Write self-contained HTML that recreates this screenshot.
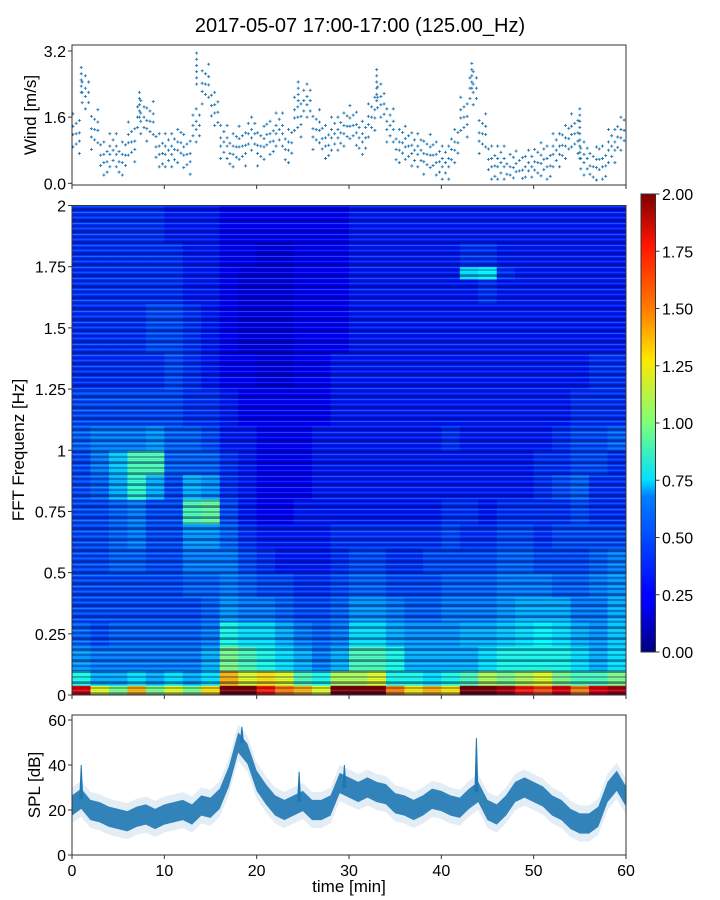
<!DOCTYPE html>
<html><head><meta charset="utf-8"><style>
html,body{margin:0;padding:0;background:#fff;}
svg{display:block;font-family:"Liberation Sans","DejaVu Sans",sans-serif;}
</style></head><body>
<svg id="fig" width="720" height="900" viewBox="0 0 720 900" xmlns="http://www.w3.org/2000/svg">
<defs>
<pattern id="streaks" width="13" height="11" patternUnits="userSpaceOnUse">
<rect x="0" y="0" width="13" height="2" fill="rgba(0,0,70,0.45)"/>
<rect x="0" y="3" width="13" height="1" fill="rgba(120,220,255,0.28)"/>
<rect x="0" y="5" width="13" height="2" fill="rgba(0,0,70,0.30)"/>
<rect x="0" y="8" width="13" height="1" fill="rgba(80,170,255,0.22)"/>
<rect x="0" y="10" width="13" height="1" fill="rgba(0,0,70,0.35)"/>
</pattern>
<linearGradient id="jetgrad" x1="0" y1="1" x2="0" y2="0">
<stop offset="0" stop-color="#00007f"/><stop offset="0.11" stop-color="#0000ff"/>
<stop offset="0.125" stop-color="#0000ff"/><stop offset="0.34" stop-color="#0080ff"/>
<stop offset="0.375" stop-color="#00e0ff"/><stop offset="0.5" stop-color="#7dff7a"/>
<stop offset="0.64" stop-color="#ffe600"/><stop offset="0.75" stop-color="#ff7b00"/>
<stop offset="0.89" stop-color="#ff1300"/><stop offset="1" stop-color="#7f0000"/>
</linearGradient>
</defs>
<text x="360" y="32" font-size="20" text-anchor="middle" fill="#000">2017-05-07 17:00-17:00 (125.00_Hz)</text>
<g id="wind"></g>
<g id="spec"></g>
<g id="cbar"></g>
<g id="spl"></g>
</svg>
<script>
// ---- data ----
const timeTicks = [0,10,20,30,40,50,60];
const windTicks = [0.0,1.6,3.2];
const windTickLabels = ["0.0","1.6","3.2"];
const windMinutes = [0,1,2,3,4,5,6,7,8,9,10,11,12,13,14,15,16,17,18,19,20,21,22,23,24,25,26,27,28,29,30,31,32,33,34,35,36,37,38,39,40,41,42,43,44,45,46,47,48,49,50,51,52,53,54,55,56,57,58,59,60];
const windValues = [1.2,2.2,1.3,0.6,0.8,0.6,1.0,1.6,1.5,0.8,0.8,0.9,0.7,1.4,2.4,1.8,1.0,0.8,0.9,1.2,0.9,1.1,1.3,0.9,1.6,2.0,1.3,1.0,1.2,1.3,1.4,1.1,1.6,2.0,1.4,0.9,0.9,0.8,0.7,0.6,0.5,0.9,1.6,2.3,1.2,0.5,0.5,0.3,0.3,0.4,0.5,0.5,0.8,1.0,1.2,0.6,0.4,0.5,0.9,1.2,1.0];
const windPeaks = [[1,2.8],[13.5,3.2],[24.5,2.5],[33,2.8],[43.3,3.0],[7.3,2.2],[55,1.8]];
const freqTicks = [0,0.25,0.5,0.75,1,1.25,1.5,1.75,2];
const freqTickLabels = ["0","0.25","0.5","0.75","1","1.25","1.5","1.75","2"];
const freqEdges = [0,0.04,0.1,0.2,0.3,0.4,0.5,0.6,0.7,0.8,0.9,1.0,1.1,1.25,1.4,1.6,1.7,1.75,1.85,2.0];
const timeEdges = [0,2,4,6,8,10,12,14,16,18,20,22,24,26,28,30,32,34,36,38,40,42,44,46,48,50,52,54,56,58,60];
const specRows = [
[1.8,1.2,1.0,1.4,1.0,1.2,1.0,1.3,2.0,2.0,1.7,1.5,1.4,1.2,2.0,2.0,2.0,1.5,1.3,1.4,1.3,2.0,2.0,1.9,1.7,1.6,1.8,1.5,1.8,1.9],
[0.8,0.6,0.6,0.7,0.6,0.7,0.6,0.7,1.4,1.2,1.3,1.2,0.9,0.8,1.1,1.1,1.2,0.8,0.8,0.7,0.8,0.9,1.1,1.0,1.1,1.2,1.0,0.9,0.9,1.0],
[0.55,0.5,0.5,0.5,0.5,0.5,0.5,0.6,1.0,0.9,0.8,0.7,0.6,0.5,0.6,0.9,0.9,0.8,0.6,0.6,0.6,0.6,0.7,0.8,0.8,0.8,0.8,0.7,0.6,0.7],
[0.45,0.4,0.45,0.45,0.45,0.45,0.45,0.5,0.8,0.7,0.7,0.6,0.5,0.45,0.5,0.7,0.7,0.6,0.55,0.55,0.55,0.6,0.6,0.65,0.7,0.75,0.7,0.6,0.55,0.65],
[0.4,0.4,0.4,0.4,0.4,0.4,0.4,0.45,0.55,0.5,0.5,0.45,0.4,0.4,0.45,0.55,0.55,0.5,0.45,0.45,0.5,0.5,0.5,0.55,0.6,0.6,0.6,0.5,0.5,0.6],
[0.4,0.4,0.4,0.4,0.4,0.4,0.45,0.45,0.5,0.45,0.4,0.4,0.35,0.35,0.4,0.45,0.45,0.4,0.4,0.4,0.45,0.45,0.45,0.5,0.5,0.5,0.45,0.45,0.5,0.55],
[0.4,0.4,0.45,0.45,0.4,0.4,0.5,0.5,0.5,0.4,0.35,0.3,0.3,0.3,0.35,0.4,0.4,0.35,0.35,0.4,0.4,0.4,0.4,0.45,0.45,0.4,0.4,0.4,0.45,0.5],
[0.4,0.4,0.45,0.5,0.4,0.4,0.55,0.55,0.45,0.35,0.3,0.3,0.3,0.3,0.35,0.35,0.35,0.35,0.35,0.35,0.4,0.35,0.35,0.4,0.4,0.35,0.4,0.4,0.4,0.4],
[0.4,0.4,0.45,0.5,0.4,0.4,0.9,0.95,0.4,0.3,0.25,0.25,0.3,0.3,0.3,0.3,0.3,0.3,0.3,0.3,0.35,0.35,0.3,0.35,0.35,0.35,0.35,0.4,0.35,0.35],
[0.4,0.45,0.6,0.85,0.6,0.4,0.6,0.55,0.35,0.3,0.25,0.25,0.25,0.3,0.3,0.3,0.3,0.3,0.3,0.3,0.3,0.3,0.3,0.3,0.3,0.35,0.4,0.45,0.35,0.35],
[0.4,0.5,0.65,0.9,0.9,0.45,0.45,0.45,0.35,0.3,0.25,0.25,0.25,0.3,0.3,0.3,0.3,0.3,0.3,0.3,0.3,0.3,0.3,0.3,0.3,0.35,0.35,0.4,0.4,0.35],
[0.45,0.5,0.5,0.5,0.55,0.45,0.45,0.4,0.3,0.3,0.25,0.25,0.25,0.3,0.3,0.3,0.3,0.3,0.3,0.3,0.35,0.3,0.3,0.3,0.3,0.3,0.35,0.4,0.4,0.45],
[0.4,0.4,0.4,0.4,0.4,0.4,0.35,0.35,0.3,0.25,0.25,0.25,0.25,0.25,0.3,0.3,0.3,0.3,0.3,0.3,0.3,0.3,0.3,0.3,0.3,0.3,0.3,0.35,0.35,0.35],
[0.35,0.35,0.35,0.35,0.35,0.4,0.35,0.3,0.25,0.25,0.2,0.2,0.25,0.25,0.3,0.3,0.3,0.3,0.3,0.3,0.3,0.3,0.3,0.3,0.3,0.3,0.3,0.3,0.35,0.35],
[0.35,0.35,0.35,0.35,0.4,0.4,0.35,0.3,0.25,0.2,0.2,0.2,0.25,0.25,0.25,0.3,0.3,0.3,0.3,0.3,0.3,0.3,0.3,0.3,0.3,0.3,0.3,0.3,0.3,0.3],
[0.35,0.35,0.35,0.35,0.35,0.35,0.3,0.3,0.25,0.2,0.2,0.2,0.25,0.25,0.25,0.3,0.3,0.3,0.3,0.3,0.3,0.3,0.35,0.3,0.3,0.3,0.3,0.3,0.3,0.3],
[0.35,0.35,0.35,0.35,0.35,0.35,0.3,0.3,0.25,0.2,0.2,0.2,0.25,0.25,0.25,0.3,0.3,0.3,0.3,0.3,0.3,0.7,0.75,0.35,0.3,0.3,0.3,0.3,0.3,0.3],
[0.35,0.35,0.35,0.35,0.35,0.35,0.3,0.3,0.25,0.25,0.2,0.2,0.25,0.25,0.25,0.3,0.3,0.3,0.3,0.3,0.3,0.35,0.35,0.3,0.3,0.3,0.3,0.3,0.3,0.3],
[0.35,0.35,0.35,0.35,0.35,0.3,0.3,0.3,0.25,0.25,0.25,0.25,0.25,0.25,0.25,0.3,0.3,0.3,0.3,0.3,0.3,0.3,0.3,0.3,0.3,0.3,0.3,0.3,0.3,0.3]
];
const cbarTicks = [0,0.25,0.5,0.75,1,1.25,1.5,1.75,2];
const cbarTickLabels = ["0.00","0.25","0.50","0.75","1.00","1.25","1.50","1.75","2.00"];
const splTicks = [0,20,40,60];
const splMinutes = windMinutes;
const splMean = [22,25,20,19,17,16,15,17,18,16,18,19,20,18,22,21,25,35,50,45,33,27,22,20,22,24,20,20,22,32,30,28,30,28,27,23,22,20,22,25,24,22,21,25,28,20,18,22,28,30,28,26,22,20,16,14,14,17,28,33,26];
const splSpikes = [[1,40],[18.4,57],[24.6,37],[43.8,52],[29.5,40]];

// ---- helpers ----
const NS = "http://www.w3.org/2000/svg";
function mk(tag, attrs, parent){const e=document.createElementNS(NS,tag);for(const k in attrs)e.setAttribute(k,attrs[k]);parent.appendChild(e);return e;}
const X0=72, X1=626;
const xT = t => X0 + (X1-X0)*t/60;
const yW = v => 183.3 - (183.3-51)*v/3.2;
const yF = f => 695 - (695-205.5)*f/2;
const yS = v => 855 - (855-720)*v/60;
const yC = v => 652 - (652-194)*v/2;
function jet(v){
  let t=Math.max(0,Math.min(1,v/2));
  const c=x=>Math.max(0,Math.min(1,x));
  const r=c(1.5-Math.abs(4*t-3)), g=c(1.5-Math.abs(4*t-2)), b=c(1.5-Math.abs(4*t-1));
  return `rgb(${Math.round(r*255)},${Math.round(g*255)},${Math.round(b*255)})`;
}
function axesFrame(g, y0, y1, name){
  const r=mk('rect',{x:X0,y:y0,width:X1-X0,height:y1-y0,fill:'none',stroke:'#333','stroke-width':1},g);
  
  
}
function xTickMarks(g, yb, labels){
  timeTicks.forEach(t=>{
    const l=mk('line',{x1:xT(t),x2:xT(t),y1:yb,y2:yb+4,stroke:'#333'},g);
    
    
    if(labels){
      const tx=mk('text',{x:xT(t),y:yb+21,'font-size':16,'text-anchor':'middle'},g);
      tx.textContent=t;
      
      
    }
  });
}
function yTick(g, y, label, x){
  const l=mk('line',{x1:X0-4,x2:X0,y1:y,y2:y,stroke:'#333'},g);
  
  
  const tx=mk('text',{x:x||X0-6,y:y+6,'font-size':16,'text-anchor':'end'},g);
  tx.textContent=label;
  
  
}
function yTitle(g, x, y, label, name){
  const tx=mk('text',{x:x,y:y,'font-size':17,'text-anchor':'middle',transform:`rotate(-90 ${x} ${y})`},g);
  tx.textContent=label;
  
  
}

// ---- wind ----
const gw=document.getElementById('wind');
const offsets=[-0.4,-0.25,-0.1,0,0.1,0.25,0.4];
const cols=[0.1,0.45,0.8];
windMinutes.forEach((m,i)=>{
  if(m>=60) return;
  cols.forEach((c,ci)=>{
    offsets.forEach((o,oi)=>{
      if((oi+ci+i)%2===1) return;
      const v=windValues[i]+o+(ci-1)*0.08*((i%3)-1);
      if(v<0.05) return;
      const x=xT(m+c), y=yW(v);
      const p=mk('path',{d:`M${x-1.5} ${y}h3M${x} ${y-1.5}v3`,stroke:'#1f77b4','stroke-width':0.9},gw);
      
      
    });
  });
});
windPeaks.forEach(pk=>{
  const base=windValues[Math.round(pk[0])];
  for(let v=base; v<=pk[1]+0.001; v+=0.15){
    const x=xT(pk[0]), y=yW(v);
    const p=mk('path',{d:`M${x-1.5} ${y}h3M${x} ${y-1.5}v3`,stroke:'#1f77b4','stroke-width':0.9},gw);
    
    
  }
});
axesFrame(gw,45,185,'wind-axes-frame');
xTickMarks(gw,185,false);
windTicks.forEach((t,i)=>yTick(gw,yW(t),windTickLabels[i]));
yTitle(gw,36,115,'Wind [m/s]','wind-y-axis-title');

// ---- spectrogram ----
const gs=document.getElementById('spec');
specRows.forEach((row,ri)=>{
  row.forEach((v,ci)=>{
    const x0=xT(timeEdges[ci]), x1=xT(timeEdges[ci+1]);
    const y0=yF(freqEdges[ri+1]), y1=yF(freqEdges[ri]);
    const r=mk('rect',{x:x0,y:y0,width:x1-x0+0.5,height:y1-y0+0.5,fill:jet(v)},gs);
    
    
  });
});
const ov=mk('rect',{x:X0,y:205.5,width:X1-X0,height:695-205.5,fill:'url(#streaks)'},gs);


axesFrame(gs,205.5,695,'spectrogram-axes-frame');
xTickMarks(gs,695,false);
freqTicks.forEach((f,i)=>yTick(gs,yF(f),freqTickLabels[i]));
yTitle(gs,24,450,'FFT Frequenz [Hz]','frequency-y-axis-title');

// ---- colorbar ----
const gc=document.getElementById('cbar');
const cb=mk('rect',{x:641,y:194,width:14.5,height:458,fill:'url(#jetgrad)',stroke:'#333','stroke-width':1},gc);


cbarTicks.forEach((t,i)=>{
  const y=yC(t);
  const l=mk('line',{x1:655.5,x2:659.5,y1:y,y2:y,stroke:'#333'},gc);
  
  
  const tx=mk('text',{x:662,y:y+6,'font-size':16},gc);
  tx.textContent=cbarTickLabels[i];
  
  
});

// ---- SPL ----
const gp=document.getElementById('spl');
let hb='';
splMinutes.forEach((m,i)=>{ hb += (i?'L':'M')+xT(m)+' '+yS(splMean[i]+8); });
for(let i=splMinutes.length-1;i>=0;i--) hb += 'L'+xT(splMinutes[i])+' '+yS(Math.max(0,splMean[i]-8));
const halo=mk('path',{d:hb+'Z',fill:'#1f77b4','fill-opacity':0.13},gp);


let up='';
splMinutes.forEach((m,i)=>{ up += (i?'L':'M')+xT(m)+' '+yS(splMean[i]+4.5); });
for(let i=splMinutes.length-1;i>=0;i--) up += 'L'+xT(splMinutes[i])+' '+yS(splMean[i]-4.5);
const band=mk('path',{d:up+'Z',fill:'#1f77b4','fill-opacity':0.9},gp);


splSpikes.forEach(s=>{
  const base=splMean[Math.round(s[0])];
  const l=mk('path',{d:`M${xT(s[0])-1.5} ${yS(base)}L${xT(s[0])} ${yS(s[1])}L${xT(s[0])+1.5} ${yS(base)}Z`,fill:'#1f77b4',stroke:'#1f77b4','stroke-width':1},gp);
  
  
});
axesFrame(gp,715,855,'spl-axes-frame');
xTickMarks(gp,855,true);
splTicks.forEach(t=>yTick(gp,yS(t),String(t)));
yTitle(gp,40,785,'SPL [dB]','spl-y-axis-title');
const xt=mk('text',{x:349,y:892,'font-size':17,'text-anchor':'middle'},gp);
xt.textContent='time [min]';


</script>
</body></html>
